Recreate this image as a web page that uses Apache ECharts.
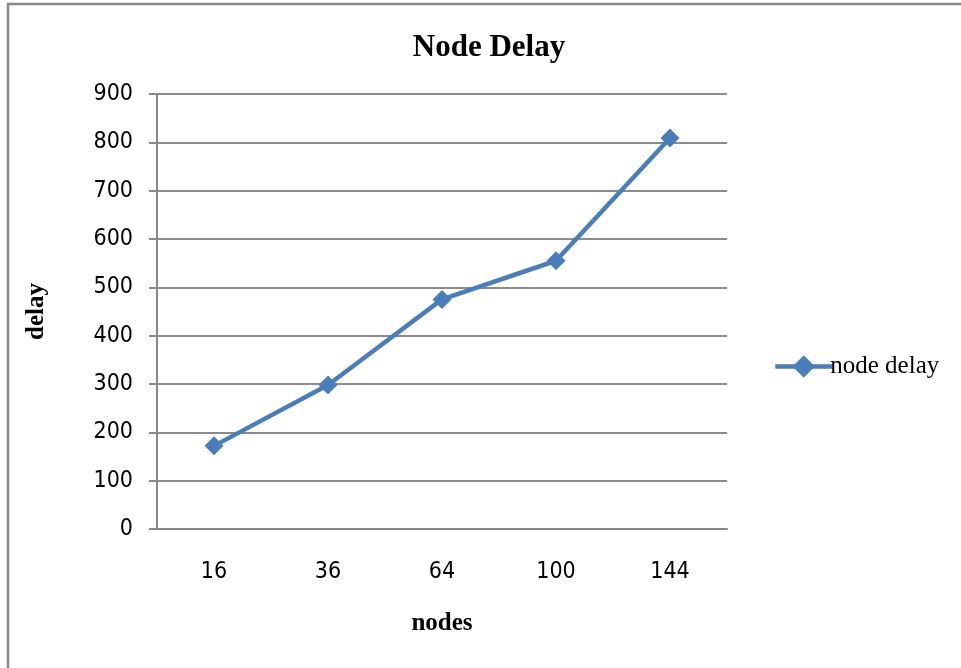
<!DOCTYPE html>
<html>
<head>
<meta charset="utf-8">
<script src="https://cdn.jsdelivr.net/npm/echarts@6/dist/echarts.min.js"></script>
<style>
  html, body { margin: 0; padding: 0; background: #fff; }
  #chart { width: 961px; height: 668px; }
</style>
</head>
<body>
<div id="chart"></div>
<script>
// chart data
const nodes = ["16", "36", "64", "100", "144"];
const nodeDelay = [172, 298, 475, 555, 809];
const yTicks = [0, 100, 200, 300, 400, 500, 600, 700, 800, 900];

const chart = echarts.init(document.getElementById("chart"));

const serif = "'Liberation Serif', 'Times New Roman', serif";
const narrow = "'DejaVu Sans Condensed', 'Liberation Sans Narrow', 'Liberation Sans', sans-serif";

const option = {
  animation: false,
  backgroundColor: "#fff",
  graphic: [
    {
      type: "rect",
      shape: { x: 8, y: 4, width: 1000, height: 700 },
      style: { fill: "none", stroke: "#888", lineWidth: 2.5 }
    }
  ],
  title: {
    text: "Node Delay",
    left: 484,
    top: 27,
    textAlign: "center",
    textStyle: { fontFamily: serif, fontWeight: "bold", fontSize: 31, color: "#000" }
  },
  legend: {
    left: 768,
    top: 349,
    itemWidth: 57,
    itemHeight: 28,
    itemGap: 0,
    lineStyle: { width: 4.5 },
    textStyle: { fontFamily: serif, fontSize: 25, color: "#000", padding: [0, 0, 0, -7] },
    data: ["node delay"]
  },
  grid: { left: 157, right: 234, top: 94, bottom: 139 },
  xAxis: {
    type: "category",
    data: nodes,
    boundaryGap: true,
    name: "nodes",
    nameLocation: "middle",
    nameGap: 82,
    nameTextStyle: { fontFamily: serif, fontWeight: "bold", fontSize: 25, color: "#000" },
    axisLine: { lineStyle: { color: "#888", width: 2 } },
    axisTick: { show: false },
    axisLabel: { fontFamily: narrow, fontSize: 23, color: "#000", margin: 32 }
  },
  yAxis: {
    type: "value",
    min: 0,
    max: 900,
    interval: 100,
    name: "delay",
    nameLocation: "middle",
    nameGap: 108,
    nameTextStyle: { fontFamily: serif, fontWeight: "bold", fontSize: 25, color: "#000" },
    axisLine: { show: true, lineStyle: { color: "#888", width: 2 } },
    axisTick: { show: true, length: 8, lineStyle: { color: "#888", width: 2 } },
    axisLabel: {
      fontFamily: narrow, fontSize: 23, color: "#000", margin: 24,
      formatter: v => (yTicks.indexOf(v) >= 0 ? String(v) : "")
    },
    splitLine: { lineStyle: { color: "#8c8c8c", width: 2 } }
  },
  series: [
    {
      name: "node delay",
      type: "line",
      data: nodeDelay,
      symbol: "diamond",
      symbolSize: 19,
      lineStyle: { color: "#4a7ebb", width: 4.5 },
      itemStyle: { color: "#4a7ebb" }
    }
  ]
};

chart.setOption(option);
</script>
</body>
</html>
